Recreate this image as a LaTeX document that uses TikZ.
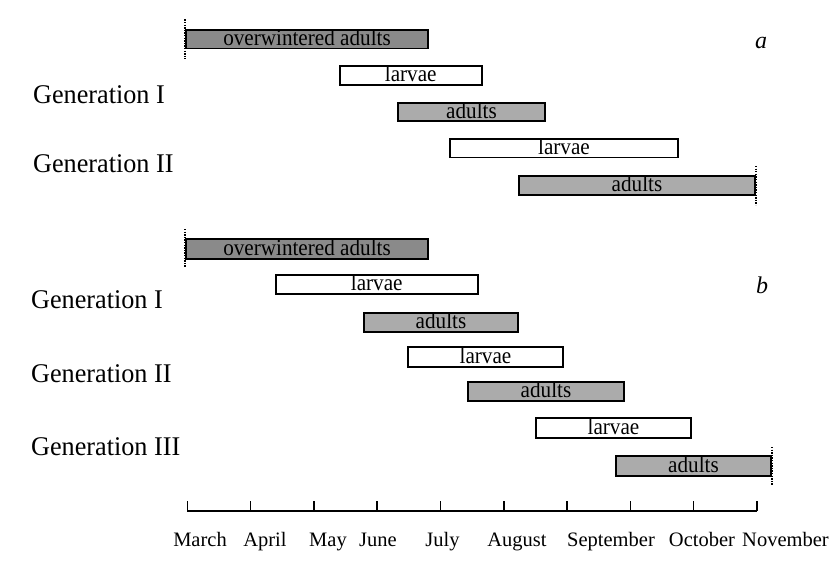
\documentclass[tikz,border=0pt]{standalone}
\usepackage{fontspec}
\setmainfont{Liberation Serif}
\newfontfamily\barf{Liberation Serif}[FakeStretch=0.92]
\newfontfamily\genf{Liberation Serif}[FakeStretch=0.97]
\begin{document}
\begin{tikzpicture}[x=1pt,y=-1pt,
  gbar/.style={draw=black, line width=1.8pt, rectangle, inner sep=0pt,
    font=\barf\fontsize{23}{23}\selectfont, text height=12.6pt, text depth=0pt},
  owbar/.style={gbar, fill={rgb,255:red,138;green,138;blue,138}},
  adbar/.style={gbar, fill={rgb,255:red,171;green,171;blue,171}},
  lvbar/.style={gbar, fill=white},
  vdot/.style={line width=1.6pt, dash pattern=on 1.3pt off 1.3pt},
  genlab/.style={anchor=base west, inner sep=0pt, font=\genf\fontsize{27}{27}\selectfont},
  panlab/.style={inner sep=0pt, font=\itshape\fontsize{24}{24}\selectfont},
  monlab/.style={anchor=base, inner sep=0pt, font=\fontsize{20.5}{20.5}\selectfont},
  axisline/.style={line width=1.8pt}]
\useasboundingbox[fill=white] (0,0) rectangle (830,583);

% ---- panel a ----
\node[owbar, minimum width=242pt, minimum height=18.7pt] (aow) at (307,39.25) {overwintered adults};
\node[lvbar, minimum width=141.7pt, minimum height=19.2pt] (al1) at (410.75,75.5) {larvae};
\node[adbar, minimum width=147.2pt, minimum height=18.2pt] (aa1) at (471.5,112) {adults};
\node[lvbar, minimum width=228.2pt, minimum height=18.7pt] (al2) at (564,148.25) {larvae};
\node[adbar, minimum width=236.2pt, minimum height=19.2pt] (aa2) at (637,185.5) {adults};
\draw[vdot] ([yshift=9.5pt]aow.north west) -- ([yshift=-10pt]aow.south west);
\draw[vdot] ([yshift=9pt]aa2.north east) -- ([yshift=-9pt]aa2.south east);
\node[panlab] (pa) at (761,43) {a};
\node[genlab] (ag1) at (33,103.3) {Generation I};
\node[genlab] (ag2) at (33,172.7) {Generation II};

% ---- panel b ----
\node[owbar, minimum width=242pt, minimum height=20.2pt] (bow) at (307,249) {overwintered adults};
\node[lvbar, minimum width=201.7pt, minimum height=19.2pt] (bl1) at (376.75,284.5) {larvae};
\node[adbar, minimum width=154.2pt, minimum height=19.2pt] (ba1) at (441,322.5) {adults};
\node[lvbar, minimum width=155.2pt, minimum height=19.7pt] (bl2) at (485.5,356.75) {larvae};
\node[adbar, minimum width=156.2pt, minimum height=19.2pt] (ba2) at (546,391.5) {adults};
\node[lvbar, minimum width=155.2pt, minimum height=20.2pt] (bl3) at (613.5,428) {larvae};
\node[adbar, minimum width=155.2pt, minimum height=19.7pt] (ba3) at (693.5,465.75) {adults};
\draw[vdot] ([yshift=9pt]bow.north west) -- ([yshift=-7pt]bow.south west);
\draw[vdot] ([yshift=8pt]ba3.north east) -- ([yshift=-8pt]ba3.south east);
\node[panlab] (pb) at (762,285) {b};
\node[genlab] (bg1) at (31,308.3) {Generation I};
\node[genlab] (bg2) at (31,382.7) {Generation II};
\node[genlab] (bg3) at (31,455) {Generation III};

% ---- time axis ----
\coordinate (ax0) at (187.3,510.7);
\coordinate (ax1) at (757,510.7);
\draw[axisline] (ax0) -- (ax1);
\foreach \k in {0,...,9} {
  \draw[axisline, line width=1.5pt] ({187.3+63.3*\k},510.7) -- ({187.3+63.3*\k},500.5);
}
\node[monlab] (m1) at (200,546.7) {March};
\node[monlab] (m2) at (265,546.7) {April};
\node[monlab] (m3) at (328,546.7) {May};
\node[monlab] (m4) at (378,546.7) {June};
\node[monlab] (m5) at (442.5,546.7) {July};
\node[monlab] (m6) at (517,546.7) {August};
\node[monlab] (m7) at (611,546.7) {September};
\node[monlab] (m8) at (702,546.7) {October};
\node[monlab] (m9) at (785.5,546.7) {November};
\end{tikzpicture}
\end{document}
